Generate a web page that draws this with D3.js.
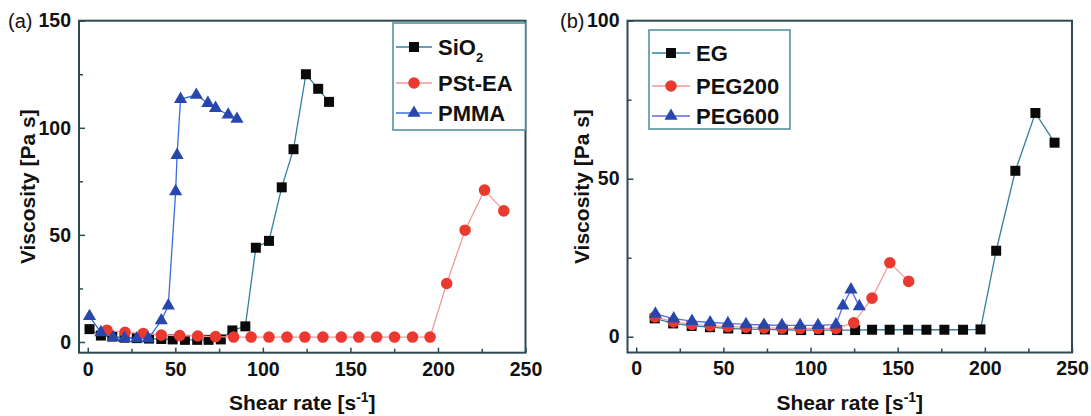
<!DOCTYPE html>
<html>
<head>
<meta charset="utf-8">
<script src="https://cdn.jsdelivr.net/npm/d3@7"></script>
<style>
body { margin: 0; background: #fff; }
svg text { font-family: "Liberation Sans", Arial, sans-serif; }
</style>
</head>
<body>
<div id="chart"></div>
<script>
var width = 1091,
	height = 416;

// panel (a)
var shearSiO2 = [1, 7.5, 14, 21, 28, 35, 42, 48.5, 55.5, 62.5, 69, 76, 82.6, 90, 96, 103.5, 110.8, 117.5, 124.6, 131.6, 137.8];
var viscSiO2 = [6, 3, 2.5, 2, 1.8, 1.6, 1.4, 1.2, 1, 1, 1, 1.2, 5.4, 7.3, 44, 47.2, 72.2, 90, 125, 118.2, 112.1];
var shearPSt = [11, 21.3, 31.7, 42, 52.5, 62.8, 73, 83.3, 93.3, 103.5, 113.8, 124, 134.3, 144.8, 154.8, 165, 175.2, 185.5, 195.5, 205, 215.5, 226.6, 237.6];
var viscPSt = [5.5, 4.5, 4, 3.2, 3, 2.8, 2.5, 2.3, 2.3, 2.3, 2.3, 2.3, 2.3, 2.3, 2.3, 2.3, 2.3, 2.3, 2.3, 27.3, 52.2, 70.9, 61.2];
var shearPMMA = [1, 7.5, 14.5, 21, 28, 34.5, 42, 46, 50.2, 51, 53, 62, 68.6, 73, 80.2, 85.2];
var viscPMMA = [12, 4.5, 2.2, 1.8, 1.6, 1.6, 10, 17, 70.3, 87.2, 113.4, 115.3, 111.5, 109.2, 106.1, 104.1];

// panel (b)
var shearEG = [10.6, 21.2, 31.8, 42.3, 52.8, 63.3, 73.8, 84.2, 94.6, 105, 115.3, 125.6, 135.3, 145.4, 156, 166.5, 176.8, 187.5, 197.5, 206.5, 217.5, 229, 240];
var viscEG = [5.8, 4.2, 3.4, 3, 2.6, 2.4, 2.3, 2.2, 2.1, 2.1, 2.1, 2.1, 2.2, 2.2, 2.2, 2.2, 2.2, 2.2, 2.3, 27.2, 52.5, 70.8, 61.4];
var shearPEG200 = [10.8, 21.4, 32, 42.4, 52.6, 63, 73.3, 83.6, 94, 104.3, 114.6, 124.8, 135.3, 145.5, 156.3];
var viscPEG200 = [6.3, 4.7, 3.9, 3.5, 3.2, 3, 2.8, 2.7, 2.6, 2.6, 2.6, 4.4, 12.2, 23.4, 17.5];
var shearPEG600 = [11, 21.5, 32, 42.4, 52.6, 63, 73.3, 83.6, 94, 104.3, 114.6, 118.6, 123.2, 128];
var viscPEG600 = [7.2, 5.7, 4.9, 4.5, 4.2, 3.9, 3.7, 3.6, 3.6, 3.6, 3.8, 9.8, 14.9, 9.6];

// ticks
var xTicks = [0, 50, 100, 150, 200, 250],
	xMinor = [25, 75, 125, 175, 225];
var yTicksA = [0, 50, 100, 150],
	yMinorA = [25, 75, 125];
var yTicksB = [0, 50, 100],
	yMinorB = [25, 75];

var frameColor = "#2c4a52";

var svg = d3.select("#chart")
	.append("svg")
	.attr("width", width)
	.attr("height", height);

function zip(xs, ys) {
	return xs.map(function(d, i) { return [d, ys[i]]; });
}

var symbols = {
	square: d3.symbol().type(d3.symbolSquare).size(100),
	circle: d3.symbol().type(d3.symbolCircle).size(105),
	triangle: d3.symbol().type(d3.symbolTriangle).size(75)
};

function panel(opt) {
	var x = d3.scaleLinear().domain([-5, 250]).range(opt.xRange);
	var y = d3.scaleLinear().domain(opt.yDomain).range(opt.yRange);
	var g = svg.append("g");

	// series
	opt.series.forEach(function(s) {
		var pts = zip(s.x, s.y);
		g.append("path")
			.datum(pts)
			.attr("fill", "none")
			.attr("stroke", s.line)
			.attr("stroke-width", 1.3)
			.attr("d", d3.line().x(function(d) { return x(d[0]); }).y(function(d) { return y(d[1]); }));
		g.selectAll(null)
			.data(pts)
			.enter()
			.append("path")
			.attr("transform", function(d) { return "translate(" + x(d[0]) + "," + y(d[1]) + ")"; })
			.attr("d", symbols[s.shape]())
			.attr("fill", s.fill);
	});

	// axes (ticks point inward)
	var bottom = opt.yRange[0], left = opt.xRange[0];
	var xa = g.append("g").attr("transform", "translate(0," + bottom + ")")
		.call(d3.axisBottom(x).tickValues(xTicks).tickSize(-5).tickPadding(9));
	var xm = g.append("g").attr("transform", "translate(0," + bottom + ")")
		.call(d3.axisBottom(x).tickValues(xMinor).tickSize(-4).tickFormat(""));
	var ya = g.append("g").attr("transform", "translate(" + left + ",0)")
		.call(d3.axisLeft(y).tickValues(opt.yTicks).tickSize(-6).tickPadding(8));
	var ym = g.append("g").attr("transform", "translate(" + left + ",0)")
		.call(d3.axisLeft(y).tickValues(opt.yMinor).tickSize(-4).tickFormat(""));
	[xa, xm, ya, ym].forEach(function(a) {
		a.select(".domain").remove();
		a.selectAll("line").attr("stroke", frameColor).attr("stroke-width", 1.5);
		a.selectAll("text")
			.attr("fill", "#111")
			.style("font-size", "19.5px")
			.style("font-weight", "bold")
			.style("font-family", "'Liberation Sans', Arial, sans-serif");
	});

	// frame
	g.append("rect")
		.attr("x", opt.xRange[0])
		.attr("y", opt.yRange[1])
		.attr("width", opt.xRange[1] - opt.xRange[0])
		.attr("height", opt.yRange[0] - opt.yRange[1])
		.attr("fill", "none")
		.attr("stroke", frameColor)
		.attr("stroke-width", 2);

	// panel tag
	g.append("text")
		.attr("x", opt.tagX)
		.attr("y", 28)
		.style("font-size", "20px")
		.attr("fill", "#111")
		.text(opt.tag);

	// titles
	var cx = (opt.xRange[0] + opt.xRange[1]) / 2;
	var xt = g.append("text")
		.attr("x", cx)
		.attr("y", 410)
		.attr("text-anchor", "middle")
		.style("font-size", "21px")
		.style("font-weight", "bold")
		.attr("fill", "#111");
	xt.append("tspan").text("Shear rate [s");
	xt.append("tspan").attr("dy", -8).style("font-size", "14px").text("-1");
	xt.append("tspan").attr("dy", 8).text("]");

	var cy = (opt.yRange[0] + opt.yRange[1]) / 2;
	g.append("text")
		.attr("transform", "translate(" + opt.yTitleX + "," + cy + ") rotate(-90)")
		.attr("text-anchor", "middle")
		.attr("dy", "0.35em")
		.style("font-size", "21px")
		.style("font-weight", "bold")
		.attr("fill", "#111")
		.text("Viscosity [Pa s]");

	// legend
	var lg = opt.legend;
	g.append("rect")
		.attr("x", lg.x).attr("y", lg.y)
		.attr("width", lg.w).attr("height", lg.h)
		.attr("fill", "#fff")
		.attr("stroke", "#4a8a9a")
		.attr("stroke-width", 1.5);
	opt.series.forEach(function(s, i) {
		var ry = lg.rows[i];
		g.append("line")
			.attr("x1", lg.x + 3).attr("x2", lg.x + 3 + lg.lineW)
			.attr("y1", ry).attr("y2", ry)
			.attr("stroke", s.line).attr("stroke-width", 1.3);
		g.append("path")
			.attr("transform", "translate(" + (lg.x + 3 + lg.lineW / 2) + "," + ry + ")")
			.attr("d", symbols[s.shape]())
			.attr("fill", s.fill);
		var t = g.append("text")
			.attr("x", lg.x + lg.textX)
			.attr("y", ry)
			.attr("dy", "0.36em")
			.style("font-size", "22px")
			.style("font-weight", "bold")
			.attr("fill", "#111");
		if (s.sub) {
			t.append("tspan").text(s.name);
			t.append("tspan").attr("dy", 7).style("font-size", "13px").text(s.sub);
		} else {
			t.text(s.name);
		}
	});
}

panel({
	tag: "(a)", tagX: 8, yTitleX: 28,
	xRange: [79, 525.5], yRange: [352.7, 20.7], yDomain: [-5, 150],
	yTicks: yTicksA, yMinor: yMinorA,
	series: [
		{ name: "SiO", sub: "2", x: shearSiO2, y: viscSiO2, shape: "square", fill: "#0a0a0a", line: "#357f9f" },
		{ name: "PSt-EA", x: shearPSt, y: viscPSt, shape: "circle", fill: "#ea3a30", line: "#f19a9a" },
		{ name: "PMMA", x: shearPMMA, y: viscPMMA, shape: "triangle", fill: "#2747ad", line: "#3a6ee0" }
	],
	legend: { x: 393, y: 23, w: 132.5, h: 107, lineW: 36, textX: 45, rows: [47, 83, 113] }
});

panel({
	tag: "(b)", tagX: 560, yTitleX: 582,
	xRange: [627.5, 1072], yRange: [352.5, 20.7], yDomain: [-5, 100],
	yTicks: yTicksB, yMinor: yMinorB,
	series: [
		{ name: "EG", x: shearEG, y: viscEG, shape: "square", fill: "#0a0a0a", line: "#357f9f" },
		{ name: "PEG200", x: shearPEG200, y: viscPEG200, shape: "circle", fill: "#ea3a30", line: "#f19a9a" },
		{ name: "PEG600", x: shearPEG600, y: viscPEG600, shape: "triangle", fill: "#2747ad", line: "#5a6ae0" }
	],
	legend: { x: 649, y: 30, w: 141, h: 99, lineW: 38, textX: 47, rows: [53, 86, 116] }
});
</script>
</body>
</html>
